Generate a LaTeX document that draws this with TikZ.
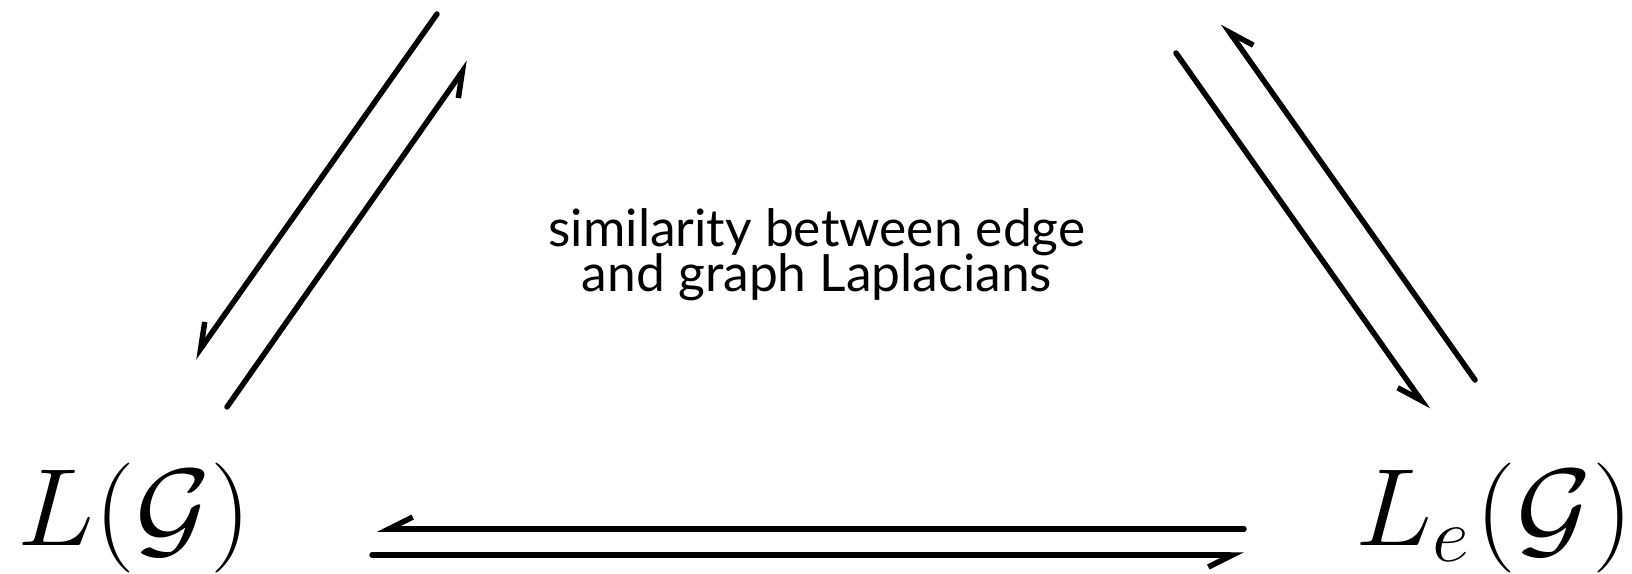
\RequirePackage{fix-cm}
\documentclass[tikz,border=0pt]{standalone}
\usepackage{fontspec}
\usepackage{graphicx}
\newfontfamily\labelfont{Lato}
\newcommand\capfont{\labelfont\fontsize{51.5bp}{45bp}\selectfont\setlength{\lineskiplimit}{-100bp}}
\usetikzlibrary{arrows.meta}
\tikzset{
  conn/.style={line width=5.5bp, line cap=round, -{Straight Barb[right, length=24bp, width=24bp]}},
  mathlabel/.style={inner sep=0pt, anchor=base west, font=\fontsize{110bp}{120bp}\selectfont},
  caption/.style={inner sep=0pt, align=center, anchor=base, font=\capfont}
}
\begin{document}
\begin{tikzpicture}[x=1bp, y=-1bp]
\useasboundingbox (0,0) rectangle (1632,574);
\node[mathlabel] (LG) at (17,545) {\scalebox{1.05}[1]{$L(\mathcal{G})$}};
\node[mathlabel] (LeG) at (1355,545) {\scalebox{1.05}[1]{$L_e\kern6bp(\mathcal{G})$}};
\node[caption] (cap) at (817,291) {similarity between edge\\and graph Laplacians};
\coordinate (a1) at (437,14);  \coordinate (a2) at (194,358);
\coordinate (b1) at (227,407); \coordinate (b2) at (469,62);
\coordinate (c1) at (1176,53); \coordinate (c2) at (1428,410);
\coordinate (d1) at (1475,380); \coordinate (d2) at (1223,23);
\coordinate (e1) at (1244,529); \coordinate (e2) at (377,529);
\coordinate (f1) at (372,555); \coordinate (f2) at (1244,555);
\draw[conn] (a1) -- (a2);
\draw[conn] (b1) -- (b2);
\draw[conn] (c1) -- (c2);
\draw[conn] (d1) -- (d2);
\draw[conn] (e1) -- (e2);
\draw[conn] (f1) -- (f2);
\end{tikzpicture}
\end{document}
